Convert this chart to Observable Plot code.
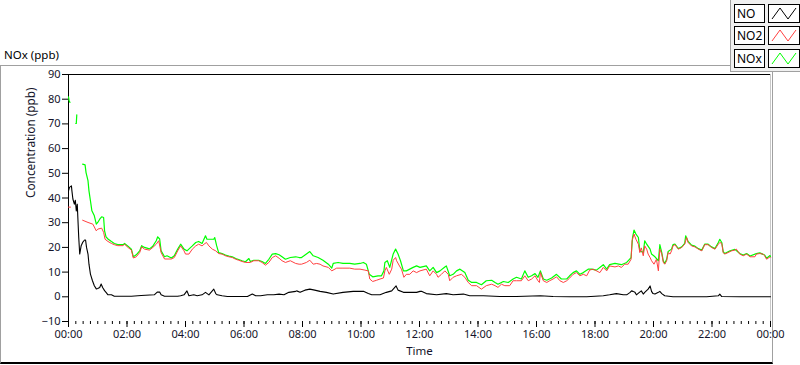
<!DOCTYPE html>
<html>
<head>
<meta charset="utf-8">
<script src="https://cdn.jsdelivr.net/npm/d3@7"></script>
<script src="https://cdn.jsdelivr.net/npm/@observablehq/plot@0.6"></script>
<style>
  html, body { margin: 0; padding: 0; background: #ffffff; }
  body { font-family: "Noto Sans", sans-serif; }
  #wrap { position: relative; width: 800px; height: 365px; overflow: hidden; background: #fff; }
  #panel { position: absolute; left: 0; top: 65px; width: 771px; height: 296px;
           border-left: 1px solid #a0a0a0; border-top: 1px solid #a0a0a0; border-right: 1px solid #a0a0a0;
           border-bottom: 2px solid #000; }
  #title { position: absolute; left: 4px; top: 47px; font-size: 11.5px; color: #000; }
  #legend { position: absolute; left: 730px; top: 0; width: 70px; height: 71px;
            border-left: 1px solid #a0a0a0; border-bottom: 1px solid #a0a0a0; background: #f0f0f0; }
  .lab { position: absolute; left: 3px; width: 27px; height: 17px; background: #fff;
         border: 1px solid #000; font-size: 12px; line-height: 17px; padding-left: 2px; color: #000; }
  .ico { position: absolute; left: 37px; width: 30px; height: 17px; background: #fff; border: 1px solid #000; }
  #chart { position: absolute; left: 0; top: 0; }
</style>
</head>
<body>
<div id="wrap">
  <div id="panel"></div>
  <div id="title">NOx (ppb)</div>
  <div id="chart"></div>
  <div id="legend"></div>
</div>
<script>
// ---- data (time in minutes after 00:00, concentration in ppb; null = gap) ----
const seriesNames = ["NO", "NO2", "NOx"];
const seriesColors = ["#000000", "#ff4040", "#00ff00"];

const noTime = [0,2,6,7,9,12,14,16,18,19,21,23,26,29,33,35,37,40,42,45,49,53,57,60,64,67,70,74,77,81,88,94,129,149,176,182,187,190,197,224,230,237,243,247,257,264,274,281,288,298,302,305,315,326,367,377,384,394,408,421,432,442,452,466,468,475,485,495,505,516,529,543,563,584,605,615,622,639,652,663,672,676,687,700,714,721,724,734,755,775,789,810,823,851,885,919,968,994,1028,1063,1097,1110,1124,1138,1145,1152,1155,1158,1162,1165,1171,1175,1179,1182,1189,1193,1196,1199,1203,1210,1213,1217,1223,1240,1275,1309,1333,1336,1340,1377,1411,1440];
const noValue = [42.9,44.3,44.9,42.9,39.6,37.5,39.1,34.8,37.5,32.8,24.0,17.3,20.7,22.0,23.0,23.0,20.0,17.3,13.2,9.2,6.6,4.5,3.2,3.4,3.8,5.2,3.8,2.5,1.8,0.8,0.8,0.2,0.2,0.5,0.8,1.9,1.9,0.8,0.2,0.2,0.4,0.8,2.4,0.4,0.8,0.4,0.8,1.8,0.8,3.1,1.3,0.8,0.4,0.1,0.1,1.1,0.4,0.4,0.8,0.8,1.1,0.8,1.8,2.2,2.4,1.8,2.7,3.1,2.7,2.2,1.8,1.1,1.8,2.2,2.2,1.3,0.8,0.8,1.8,2.4,4.4,2.7,1.8,1.8,1.8,2.2,2.2,1.3,0.8,1.3,0.8,1.1,0.4,0.4,0.1,0.1,0.4,0.1,0.0,0.0,0.4,0.8,1.3,0.8,0.8,1.8,2.4,2.2,1.8,0.8,1.8,2.4,1.1,1.8,3.1,4.4,2.2,1.3,1.1,1.8,2.2,1.3,0.4,0.0,0.0,0.0,0.4,1.1,0.1,0.0,0.0,0.0];

const no2Time = [0,4,6,29,40,50,57,60,68,72,75,81,88,94,101,112,115,122,129,133,139,146,150,156,166,173,180,185,190,197,211,217,224,230,237,240,247,254,261,267,274,278,283,288,295,302,308,315,322,329,336,343,349,356,363,373,380,390,397,404,411,418,425,432,438,445,455,466,473,478,488,495,502,509,516,522,533,540,550,563,577,587,598,608,615,618,624,632,639,646,649,652,658,663,666,671,673,680,683,688,693,700,707,714,721,734,741,748,755,758,765,772,779,782,789,796,806,813,820,827,837,847,857,868,875,881,888,895,905,912,919,929,936,943,950,957,963,966,968,974,981,987,994,1001,1008,1015,1022,1028,1035,1042,1049,1056,1063,1069,1076,1083,1090,1097,1104,1110,1121,1128,1134,1141,1148,1154,1156,1160,1164,1169,1172,1175,1179,1182,1186,1189,1193,1196,1201,1206,1210,1213,1217,1220,1223,1227,1230,1234,1237,1240,1244,1251,1258,1264,1268,1271,1278,1285,1292,1299,1305,1312,1319,1326,1333,1336,1340,1343,1346,1353,1360,1367,1370,1377,1384,1391,1398,1408,1411,1418,1425,1428,1432,1439,1440];
const no2Value = [36.3,36.3,null,31.0,30.1,29.4,26.7,27.4,27.8,26.1,23.3,22.4,21.6,21.1,20.7,20.7,21.3,20.0,18.9,15.7,16.2,17.9,20.2,19.3,18.9,20.0,21.3,22.7,17.9,15.3,15.3,15.9,18.6,20.6,18.6,17.3,17.3,19.3,20.6,21.3,20.6,21.3,22.0,20.6,19.3,18.6,17.5,17.3,16.6,16.2,15.9,15.2,14.8,14.3,13.9,13.9,14.6,14.6,13.9,12.8,13.9,15.9,16.6,15.6,14.6,13.9,14.6,13.5,13.2,13.2,13.9,14.8,13.2,13.5,13.2,12.5,11.9,10.5,11.6,11.6,11.6,11.2,11.2,10.8,10.5,7.2,6.2,6.7,7.2,7.6,10.5,11.9,9.1,11.2,14.8,15.9,14.6,12.1,11.2,7.9,9.1,9.1,10.5,9.8,10.5,11.2,8.5,10.5,9.1,7.9,9.1,10.5,9.1,6.5,7.9,8.5,9.1,7.9,5.8,4.5,4.5,3.1,4.5,5.1,4.5,3.8,5.1,4.5,4.5,6.5,6.5,6.5,8.5,6.5,7.2,8.5,6.5,5.8,9.8,6.5,5.8,6.5,7.2,8.1,6.5,5.8,6.5,7.6,9.1,9.8,8.5,9.1,8.5,10.8,11.2,10.5,9.8,11.9,10.5,12.5,12.1,12.5,11.9,13.2,13.2,15.2,22.7,25.4,23.3,21.3,17.9,19.8,16.6,20.6,19.3,17.3,15.9,14.6,13.2,15.2,10.5,19.3,17.3,14.0,13.2,14.6,17.9,17.3,18.6,20.6,21.1,19.3,20.0,21.3,24.0,22.0,20.6,20.2,19.3,18.6,21.1,21.1,20.0,19.3,21.3,22.0,21.6,17.9,17.3,17.9,18.6,18.9,19.3,17.3,16.6,17.3,16.2,16.2,17.3,17.5,17.3,16.6,15.2,16.2,16.0];

const noxTime = [0,1,3,4,15,16,17,19,29,34,36,40,42,45,48,53,57,60,64,68,72,74,77,81,88,94,101,112,115,122,129,133,139,146,150,156,166,173,180,183,187,190,197,202,211,217,224,230,237,243,254,261,267,274,281,284,291,298,300,304,308,315,322,329,336,343,349,356,363,370,373,380,390,397,404,411,418,425,432,438,445,455,466,473,478,488,495,502,512,522,533,540,543,553,563,577,587,598,605,611,617,624,635,642,647,649,654,659,666,671,676,681,687,693,700,707,714,721,734,741,748,755,762,772,775,782,789,796,803,813,820,827,837,847,857,868,875,881,892,902,912,919,929,936,943,950,957,963,968,974,981,991,1001,1011,1022,1028,1035,1042,1049,1056,1066,1073,1083,1097,1104,1110,1121,1134,1145,1154,1157,1160,1164,1169,1172,1179,1182,1186,1193,1196,1203,1210,1213,1217,1220,1223,1227,1230,1237,1240,1244,1251,1258,1264,1266,1271,1278,1285,1292,1299,1305,1312,1319,1326,1333,1336,1340,1343,1346,1357,1367,1377,1384,1391,1398,1411,1418,1428,1432,1439,1440];
const noxValue = [81.0,79.6,78.7,null,70.2,70.2,73.7,null,53.7,53.4,50.3,47.0,42.9,38.9,34.8,32.8,29.4,30.1,31.4,32.4,32.1,26.7,24.3,23.4,22.4,21.6,21.1,21.1,21.6,20.5,19.3,16.2,17.0,18.6,20.7,20.0,19.4,20.5,22.7,24.3,23.4,18.6,16.2,16.6,15.7,16.6,19.3,21.3,19.3,18.6,20.6,22.0,22.4,21.6,24.7,23.3,23.3,23.3,24.0,20.6,17.9,17.5,16.9,16.5,16.2,15.5,15.1,14.6,14.2,15.5,14.3,14.8,14.8,14.3,13.5,15.2,17.3,17.5,17.0,16.2,15.2,15.9,16.2,15.9,15.9,17.3,18.3,16.6,15.9,14.8,13.2,11.6,13.5,13.9,13.5,13.5,13.2,13.5,13.9,13.2,9.1,8.1,8.5,8.5,10.5,13.9,14.6,11.9,17.3,19.3,17.3,14.6,10.5,10.5,11.2,11.9,12.5,11.9,12.5,10.5,11.9,9.8,10.5,12.1,12.5,8.5,9.1,10.5,11.2,9.8,6.7,5.8,5.8,4.9,6.5,6.7,5.8,5.1,6.2,5.8,7.2,7.9,7.2,10.5,7.9,8.5,9.4,7.9,10.5,7.2,6.7,7.6,9.1,7.2,7.2,8.5,9.8,10.5,9.1,9.8,11.2,11.2,10.8,13.0,11.2,13.0,13.5,13.0,13.9,15.9,24.0,27.0,25.4,24.0,18.6,17.9,22.7,21.3,19.3,17.3,16.2,14.6,21.1,17.9,14.6,13.5,15.2,18.3,19.3,21.1,21.3,19.5,20.2,21.6,24.7,22.4,20.9,20.5,19.5,18.9,21.3,21.3,20.2,19.5,22.0,23.3,22.0,18.3,17.5,18.6,19.2,17.5,16.9,17.5,16.5,17.5,17.8,16.9,15.6,16.7,16.3];

const xMajorTicks = [0,120,240,360,480,600,720,840,960,1080,1200,1320,1440];
const xTickLabels = ["00:00","02:00","04:00","06:00","08:00","10:00","12:00","14:00","16:00","18:00","20:00","22:00","00:00"];
const xMinorTicks = d3.range(0, 1441, 15);
const yTicks = [-10,0,10,20,30,40,50,60,70,80,90];

const rows = (t, v) => t.map((d, i) => ({t: d, v: v[i]}));
const noRows = rows(noTime, noValue);
const no2Rows = rows(no2Time, no2Value);
const noxRows = rows(noxTime, noxValue);

const labelColor = "#14142a";

const chart = Plot.plot({
  width: 800,
  height: 365,
  marginLeft: 68,
  marginRight: 30,
  marginTop: 74,
  marginBottom: 44,
  style: {background: "transparent", fontFamily: "Noto Sans, sans-serif", fontSize: "11px", color: labelColor},
  x: {domain: [0, 1440], label: null},
  y: {domain: [-10, 90], label: null},
  marks: [
    Plot.axisX({ticks: xMinorTicks, tickSize: 3, tickFormat: () => "", label: null, stroke: "#000"}),
    Plot.axisX({ticks: xMajorTicks, tickSize: 6, tickPadding: 3,
                tickFormat: d => xTickLabels[xMajorTicks.indexOf(d)], label: null, stroke: "#000", fill: labelColor}),
    Plot.axisY({ticks: yTicks, tickSize: 6, tickPadding: 2, label: null, stroke: "#000", fill: labelColor}),
    Plot.ruleX([0], {stroke: "#000", strokeWidth: 1}),
    Plot.ruleY([90], {stroke: "#000", strokeWidth: 1}),
    Plot.ruleX([1440], {stroke: "#c8c8c8", strokeWidth: 1}),
    Plot.line(noxRows, {x: "t", y: "v", stroke: seriesColors[2], strokeWidth: 1.2}),
    Plot.line(no2Rows, {x: "t", y: "v", stroke: seriesColors[1], strokeWidth: 1}),
    Plot.line(noRows, {x: "t", y: "v", stroke: seriesColors[0], strokeWidth: 1.1}),
    Plot.text(["Concentration (ppb)"], {frameAnchor: "left", rotate: -90, dx: -37, fontSize: 11.8, fill: labelColor}),
    Plot.text(["Time"], {frameAnchor: "bottom", dy: 33, fontSize: 11.5, fill: labelColor})
  ]
});
document.getElementById("chart").appendChild(chart);

// legend
const legend = document.getElementById("legend");
const rowTops = [4, 26, 49];
seriesNames.forEach((name, i) => {
  const lab = document.createElement("div");
  lab.className = "lab";
  lab.style.top = rowTops[i] + "px";
  lab.textContent = name;
  legend.appendChild(lab);
  const ico = document.createElement("div");
  ico.className = "ico";
  ico.style.top = rowTops[i] + "px";
  ico.innerHTML = `<svg width="30" height="17"><polyline points="3,14 11,3 19,14 27,3" fill="none" stroke="${seriesColors[i]}" stroke-width="1"/></svg>`;
  legend.appendChild(ico);
});
</script>
</body>
</html>
